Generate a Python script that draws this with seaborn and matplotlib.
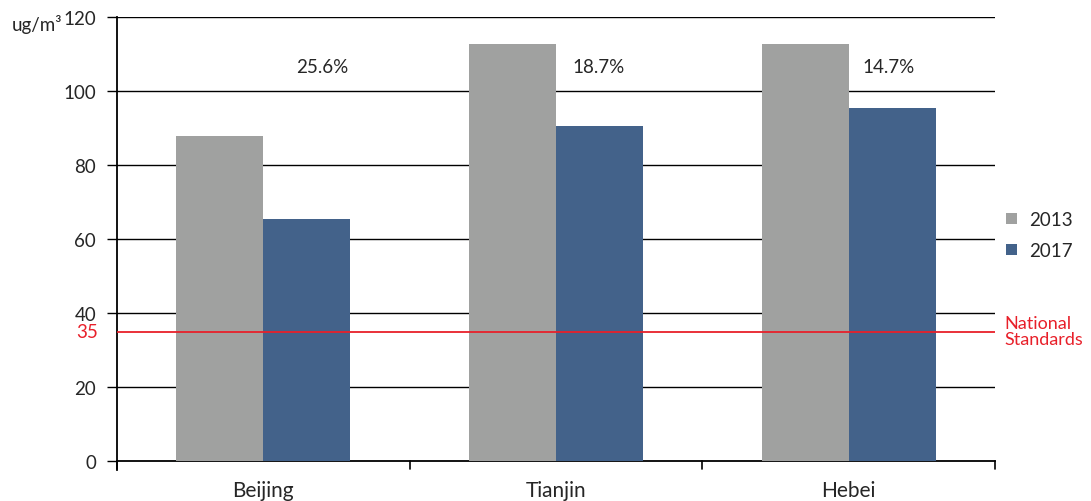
import matplotlib
matplotlib.use("Agg")
import matplotlib.pyplot as plt
import seaborn as sns
import pandas as pd

regions = ["Beijing", "Tianjin", "Hebei"]
years = ["2013", "2017"]
pm25_2013 = [87.8, 112.7, 112.7]
pm25_2017 = [65.3, 90.5, 95.4]
reductions = ["25.6%", "18.7%", "14.7%"]
standard = 35
y_ticks = [0, 20, 40, 60, 80, 100, 120]

sns.set_theme(style="white")
plt.rcParams["font.family"] = ["Lato", "DejaVu Sans"]

df = pd.DataFrame({
    "region": regions * 2,
    "year": [years[0]] * 3 + [years[1]] * 3,
    "value": pm25_2013 + pm25_2017,
})

fig = plt.figure(figsize=(10.91, 5.02), dpi=100)
ax = fig.add_axes([117 / 1091, 1 - 462 / 502, (995 - 117) / 1091, (462 - 18) / 502])

sns.barplot(data=df, x="region", y="value", hue="year", order=regions,
            hue_order=years, palette=["#A0A1A0", "#43628A"], width=0.595,
            gap=0, saturation=1, errorbar=None, ax=ax, zorder=3, linewidth=0)

ax.set_xlim(-0.5, 2.5)
ax.set_ylim(0, 120)
ax.set_yticks(y_ticks)
ax.set_yticklabels([str(t) for t in y_ticks], fontsize=13.5)
for t in y_ticks[1:]:
    ax.axhline(t, color="black", lw=1.0, zorder=1)

# national standard line
ax.axhline(standard, color="#E8202A", lw=1.3, zorder=4)
ax.text(-19 / 878, standard, str(standard), color="#E8202A", fontsize=13.5,
        ha="right", va="center", transform=ax.get_yaxis_transform())
ax.text(1.011, standard, "National\nStandards", color="#E8202A", fontsize=13,
        ha="left", va="center", linespacing=1.0,
        transform=ax.get_yaxis_transform())

# x axis: category labels centered, ticks at boundaries
ax.set_xticks([0, 1, 2])
ax.set_xticklabels(regions, fontsize=15)
ax.tick_params(axis="x", length=0, pad=14)
for b in [-0.5, 0.5, 1.5, 2.5]:
    ax.plot([b, b], [0, -0.018], color="black", lw=1.2,
            transform=ax.get_xaxis_transform(), clip_on=False)
ax.tick_params(axis="y", length=7, width=1.0, color="black", direction="out",
               left=True, pad=8)
ax.set_xlabel("")
ax.set_ylabel("")

for side in ["top", "right"]:
    ax.spines[side].set_visible(False)
for side in ["left", "bottom"]:
    ax.spines[side].set_color("black")
    ax.spines[side].set_linewidth(1.3)
ax.spines["left"].set_bounds(-2.5, 120)

# reduction labels
offsets = [0.20, 0.145, 0.137]
for i, (lab, off) in enumerate(zip(reductions, offsets)):
    ax.text(i + off, 106.5, lab, fontsize=13.5, ha="center", va="center", zorder=5)

fig.text(12 / 1091, 1 - 25 / 502, "ug/m³", fontsize=13.5, ha="left", va="center")

ax.legend(title=None, loc="center left", bbox_to_anchor=(1.013, 0.509),
          frameon=False, fontsize=13.5, handlelength=0.55, handleheight=0.55,
          handletextpad=0.65, labelspacing=0.75, borderpad=0, borderaxespad=0)

fig.savefig("out.png", dpi=100)
